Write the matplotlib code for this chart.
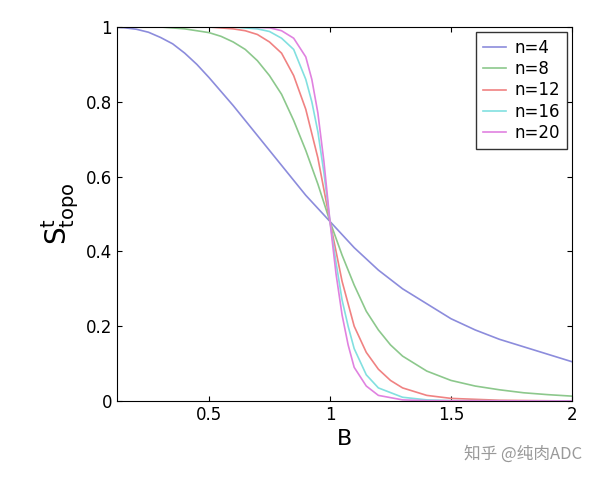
import matplotlib.pyplot as plt

plt.rcParams["font.family"] = ["DejaVu Sans", "Noto Sans CJK SC"]

# values
b4 = [0.1, 0.15, 0.2, 0.25, 0.3, 0.35, 0.4, 0.45, 0.5, 0.6, 0.7, 0.8, 0.9, 1.0, 1.1, 1.2, 1.3, 1.4, 1.5, 1.6, 1.7, 1.8, 1.9, 2.0]
s4 = [1.0, 0.998, 0.994, 0.986, 0.972, 0.955, 0.93, 0.90, 0.865, 0.79, 0.71, 0.63, 0.55, 0.48, 0.41, 0.35, 0.30, 0.26, 0.22, 0.19, 0.165, 0.145, 0.125, 0.105]

b8 = [0.1, 0.3, 0.4, 0.5, 0.55, 0.6, 0.65, 0.7, 0.75, 0.8, 0.85, 0.9, 0.95, 1.0, 1.05, 1.1, 1.15, 1.2, 1.25, 1.3, 1.4, 1.5, 1.6, 1.7, 1.8, 1.9, 2.0]
s8 = [1.0, 1.0, 0.995, 0.985, 0.975, 0.96, 0.94, 0.91, 0.87, 0.82, 0.75, 0.67, 0.58, 0.48, 0.39, 0.31, 0.24, 0.19, 0.15, 0.12, 0.08, 0.055, 0.04, 0.03, 0.022, 0.017, 0.013]

b12 = [0.1, 0.5, 0.6, 0.65, 0.7, 0.75, 0.8, 0.85, 0.9, 0.95, 1.0, 1.05, 1.1, 1.15, 1.2, 1.25, 1.3, 1.4, 1.5, 1.7, 2.0]
s12 = [1.0, 1.0, 0.995, 0.99, 0.98, 0.96, 0.93, 0.87, 0.78, 0.65, 0.48, 0.32, 0.20, 0.13, 0.085, 0.055, 0.035, 0.015, 0.007, 0.002, 0.0]

b16 = [0.1, 0.6, 0.7, 0.75, 0.8, 0.85, 0.9, 0.925, 0.95, 0.975, 1.0, 1.025, 1.05, 1.075, 1.1, 1.15, 1.2, 1.3, 1.4, 1.5, 2.0]
s16 = [1.0, 1.0, 0.995, 0.988, 0.97, 0.94, 0.86, 0.80, 0.72, 0.61, 0.48, 0.37, 0.27, 0.20, 0.14, 0.07, 0.035, 0.01, 0.003, 0.001, 0.0]

b20 = [0.1, 0.65, 0.75, 0.8, 0.85, 0.9, 0.925, 0.95, 0.975, 1.0, 1.025, 1.05, 1.075, 1.1, 1.15, 1.2, 1.3, 1.4, 2.0]
s20 = [1.0, 1.0, 0.998, 0.99, 0.97, 0.92, 0.86, 0.77, 0.64, 0.48, 0.34, 0.23, 0.15, 0.09, 0.04, 0.015, 0.003, 0.001, 0.0]

series = [("n=4", b4, s4, "#8c8cdc"), ("n=8", b8, s8, "#8cc88c"),
          ("n=12", b12, s12, "#f08282"), ("n=16", b16, s16, "#82e0e0"),
          ("n=20", b20, s20, "#e082e0")]

fig = plt.figure(figsize=(6, 4.78), dpi=100)
ax = fig.add_axes([117 / 600, 1 - 401 / 478, 455 / 600, 374 / 478])

for label, b, s, c in series:
    ax.plot(b, s, color=c, lw=1.2, label=label)

ax.set_xlim(0.12, 2)
ax.set_ylim(0, 1)
ax.set_xticks([0.5, 1, 1.5, 2])
ax.set_xticklabels(["0.5", "1", "1.5", "2"])
ax.set_yticks([0, 0.2, 0.4, 0.6, 0.8, 1])
ax.set_yticklabels(["0", "0.2", "0.4", "0.6", "0.8", "1"])
ax.tick_params(direction="in", top=True, right=True, labelsize=12)
ax.set_xlabel("B", fontsize=16)
ax.set_ylabel(r"$\mathrm{S^t_{topo}}$", fontsize=20)

leg = ax.legend(loc="upper right", fontsize=12, fancybox=False, handlelength=1.4,
                handletextpad=0.5, labelspacing=0.2, borderaxespad=0.3)
leg.get_frame().set_edgecolor("black")

fig.text(0.97, 0.05, "知乎 @纯肉ADC", ha="right", va="center", fontsize=12,
         color="#999999", family=["Noto Sans CJK SC", "DejaVu Sans"])

plt.savefig("out.png", dpi=100)
plt.close(fig)
